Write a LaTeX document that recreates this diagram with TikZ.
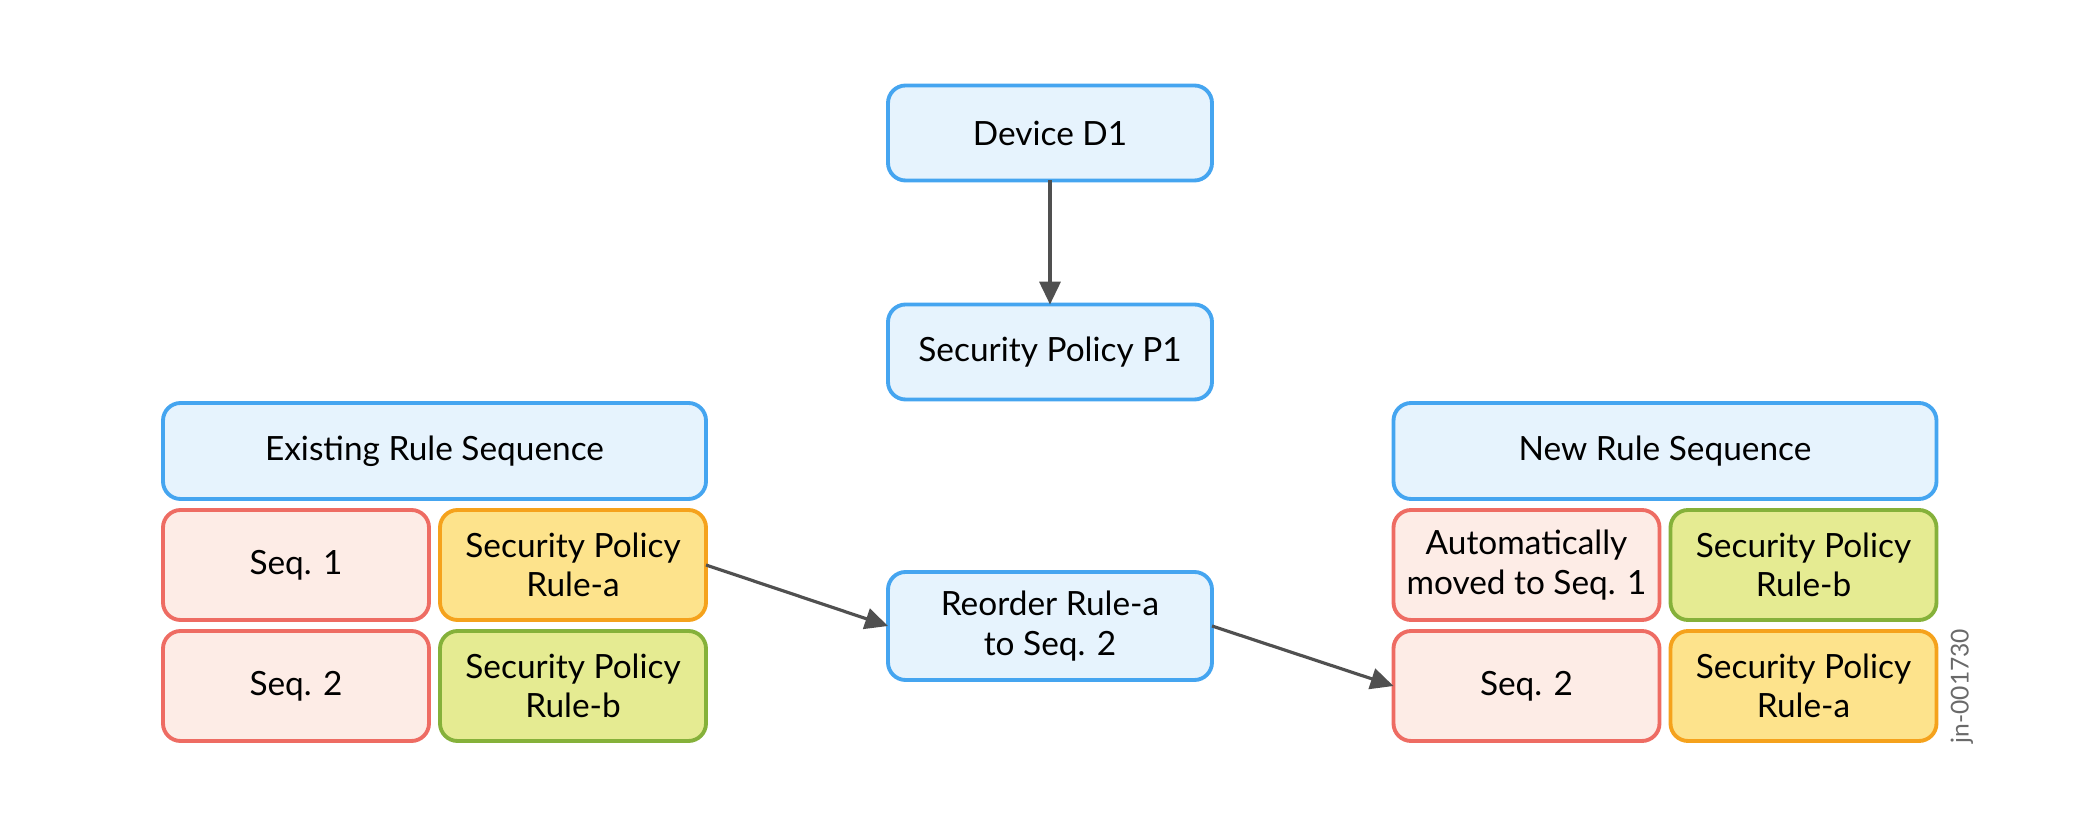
\documentclass[tikz,border=0pt]{standalone}
\usepackage{fontspec}
\setmainfont{Lato}
\usetikzlibrary{arrows.meta,positioning}
\definecolor{jnInk}{HTML}{505050}
\definecolor{jnTag}{HTML}{6A6A6A}
\definecolor{jnBlue}{HTML}{45A5F0}
\definecolor{jnLightBlue}{HTML}{E6F3FD}
\definecolor{jnRed}{HTML}{EE6C63}
\definecolor{jnLightRed}{HTML}{FDECE6}
\definecolor{jnOrange}{HTML}{F5A21C}
\definecolor{jnLightOrange}{HTML}{FDE38C}
\definecolor{jnGreen}{HTML}{85B13A}
\definecolor{jnLightGreen}{HTML}{E5EB92}
\newcommand{\jnfont}{\fontsize{9.5}{11.2}\selectfont}
\tikzset{
  % Blue step box
  bbox/.style={rectangle,rounded corners=5pt,line width=1.1pt,
    minimum width=3.24cm,minimum height=0.95cm,inner sep=2pt,outer sep=0pt,
    align=center,draw=jnBlue,fill=jnLightBlue,
    font=\jnfont,text=black},
  % Blue header box (wide)
  hbox/.style={bbox,minimum width=5.43cm,minimum height=0.96cm},
  % Sequence box (red)
  seqbox/.style={rectangle,rounded corners=5pt,line width=1.1pt,
    minimum width=2.66cm,minimum height=1.10cm,inner sep=2pt,outer sep=0pt,
    align=center,draw=jnRed,fill=jnLightRed,
    font=\jnfont,text=black},
  % Rule-a box (orange)
  abox/.style={seqbox,draw=jnOrange,fill=jnLightOrange},
  % Rule-b box (green)
  gbox/.style={seqbox,draw=jnGreen,fill=jnLightGreen},
  % Arrows
  arr/.style={-{Triangle[length=6.5pt,width=6pt]},line width=0.9pt,color=jnInk},
  tag/.style={font=\fontsize{7}{8}\selectfont,text=jnTag,rotate=90},
}
\begin{document}
\begin{tikzpicture}
  \useasboundingbox (0,0) rectangle (21,8.28);

  % Device and policy (middle column)
  \node[bbox] (dev) at (10.5,6.95) {Device D1};
  \node[bbox] (pol) at (10.5,4.76) {Security Policy P1};
  \node[bbox,minimum height=1.08cm] (reord) at (10.5,2.02)
    {Reorder Rule-a\\to Seq. 2};

  % Existing rule sequence (left)
  \node[hbox] (old) at (4.345,3.77) {Existing Rule Sequence};
  \node[seqbox,below=0.11cm of old.south west,anchor=north west] (oldseq1) {Seq. 1};
  \node[abox,right=0.11cm of oldseq1] (oldrulea) {Security Policy\\Rule-a};
  \node[seqbox,below=0.11cm of oldseq1] (oldseq2) {Seq. 2};
  \node[gbox,right=0.11cm of oldseq2] (oldruleb) {Security Policy\\Rule-b};

  % New rule sequence (right)
  \node[hbox] (new) at (16.65,3.77) {New Rule Sequence};
  \node[seqbox,below=0.11cm of new.south west,anchor=north west] (newseq1)
    {Automatically\\moved to Seq. 1};
  \node[gbox,right=0.11cm of newseq1] (newruleb) {Security Policy\\Rule-b};
  \node[seqbox,below=0.11cm of newseq1] (newseq2) {Seq. 2};
  \node[abox,right=0.11cm of newseq2] (newrulea) {Security Policy\\Rule-a};

  \node[tag] (fig) at (19.62,1.42) {jn-001730};

  \draw[arr] (dev.south) -- (pol.north);
  \draw[arr] (oldrulea.east) -- (reord.west);
  \draw[arr] (reord.east) -- (newseq2.west);
\end{tikzpicture}
\end{document}
